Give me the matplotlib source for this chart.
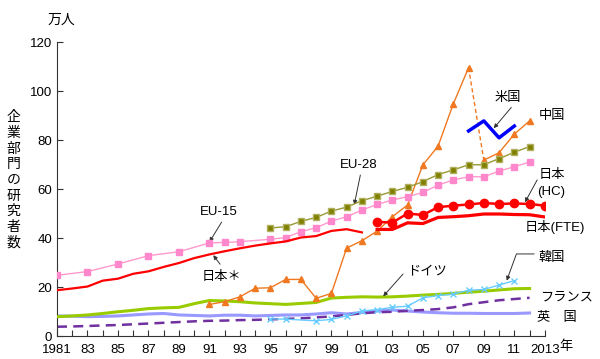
import matplotlib
matplotlib.use('Agg')
import matplotlib.pyplot as plt
import numpy as np

plt.rcParams['font.family'] = ['Liberation Sans', 'Noto Sans CJK JP', 'DejaVu Sans']

# data (万人)
yrs_jp_old = list(range(1981, 2002))
jp_old = [18.7, 19.4, 20.2, 22.6, 23.4, 25.4, 26.4, 28.2, 29.8, 31.8, 33.3,
          34.6, 35.8, 36.9, 37.8, 38.6, 40.2, 40.8, 42.9, 43.6, 42.3]
yrs_jp_new = list(range(2002, 2014))
jp_fte = [43.5, 43.5, 46.2, 45.9, 48.4, 48.7, 49.1, 49.8, 49.8, 49.6, 49.5, 48.6]
jp_hc = [46.6, 46.3, 50.0, 49.4, 52.6, 53.2, 53.7, 54.3, 53.9, 54.1, 53.9, 53.2]

yrs_eu15 = [1981, 1983, 1985, 1987, 1989, 1991, 1992, 1993] + list(range(1995, 2013))
eu15 = [24.8, 26.3, 29.4, 32.8, 34.4, 38.0, 38.2, 38.5, 39.5, 40.2, 42.6, 44.2,
        46.9, 48.7, 51.4, 53.7, 55.5, 56.9, 58.6, 61.6, 63.7, 65.0, 65.0, 67.3,
        69.1, 71.0]
yrs_eu28 = list(range(1995, 2013))
eu28 = [44.1, 44.6, 46.8, 48.4, 51.0, 52.6, 55.2, 57.1, 59.0, 60.7, 63.0, 65.9,
        67.8, 69.9, 69.9, 72.4, 75.0, 77.3]

yrs_cn1 = list(range(1991, 2009))
cn1 = [12.9, 14.0, 16.0, 19.5, 19.7, 23.1, 23.1, 15.4, 17.4, 35.9, 38.9, 42.8,
       48.7, 53.5, 69.8, 77.5, 94.8, 109.5]
yrs_cn2 = [2009, 2010, 2011, 2012]
cn2 = [71.8, 74.8, 82.4, 87.8]

yrs_us = [2008, 2009, 2010, 2011]
us = [83.7, 87.8, 80.9, 85.7]

yrs_all = list(range(1981, 2013))
de = [7.9, 8.2, 8.6, 9.2, 9.9, 10.5, 11.2, 11.5, 11.7, 13.2, 14.5, 14.3, 14.0,
      13.5, 13.2, 12.9, 13.3, 13.7, 15.5, 15.8, 16.0, 15.9, 16.0, 16.3, 16.7,
      17.0, 17.4, 17.9, 18.3, 18.8, 19.3, 19.4]
uk = [8.2, 8.1, 7.9, 8.0, 8.2, 8.6, 9.0, 9.2, 8.6, 8.4, 8.2, 8.5, 8.5, 8.2,
      8.4, 8.6, 8.6, 9.0, 9.5, 9.0, 9.6, 10.2, 10.6, 10.2, 9.8, 9.5, 9.3, 9.3,
      9.2, 9.2, 9.2, 9.4]
fr = [3.8, 3.9, 4.1, 4.3, 4.5, 4.8, 5.1, 5.4, 5.7, 6.0, 6.2, 6.3, 6.5, 6.6,
      6.8, 7.0, 7.2, 7.6, 8.0, 8.6, 9.3, 9.7, 9.9, 10.3, 10.6, 11.0, 11.7, 13.0,
      13.8, 14.6, 15.1, 15.6]
yrs_kr = [1995, 1996, 1998, 1999] + list(range(2000, 2012))
kr = [7.0, 6.9, 6.2, 6.8, 8.2, 10.2, 10.8, 11.7, 12.2, 15.6, 16.5, 17.1, 18.7,
      19.0, 20.8, 22.6]

xtick_labels = ['1981', '83', '85', '87', '89', '91', '93', '95', '97', '99',
                '01', '03', '05', '07', '09', '11', '2013']

fig = plt.figure(figsize=(6, 3.59), dpi=100)
ax = fig.add_axes([0.095, 0.064, 0.813, 0.819])

ax.plot(yrs_all, uk, color='#9999ff', lw=2.2, zorder=2)
ax.plot(yrs_all, fr, color='#7030a0', lw=1.8, ls=(0, (4, 2.5)), zorder=2)
ax.plot(yrs_all, de, color='#99cc00', lw=2.2, zorder=3)
ax.plot(yrs_kr, kr, color='#66ccff', lw=1, marker='x', ms=4, mew=1, zorder=4)
ax.plot(yrs_cn1, cn1, color='#f07820', lw=1, marker='^', ms=4.5, zorder=4)
ax.plot(yrs_cn2, cn2, color='#f07820', lw=1, marker='^', ms=4.5, zorder=4)
ax.plot([yrs_cn1[-1], yrs_cn2[0]], [cn1[-1], cn2[0]], color='#f07820', lw=1,
        ls=(0, (3, 2)), zorder=4)
ax.plot(yrs_eu15, eu15, color='#ff99cc', lw=1, marker='s', ms=4.5,
        mfc='#ff88cc', mec='#ff88cc', zorder=4)
ax.plot(yrs_eu28, eu28, color='#999933', lw=1, marker='s', ms=5,
        mfc='#808000', mec='#b0b060', zorder=4)
ax.plot(yrs_jp_old, jp_old, color='#ff0000', lw=1.6, zorder=5)
ax.plot(yrs_jp_new, jp_fte, color='#ff0000', lw=2.3, zorder=5)
ax.plot(yrs_jp_new, jp_hc, color='#ff0000', lw=1.8, marker='o', ms=6, zorder=5)
ax.plot(yrs_us, us, color='#0000ff', lw=2.5, zorder=5)

ax.set_xlim(1981, 2013)
ax.set_ylim(0, 120)
ax.set_xticks(range(1981, 2014, 2))
ax.set_xticklabels(xtick_labels)
ax.set_xticks(range(1981, 2014), minor=True)
ax.set_yticks(range(0, 121, 20))
ax.tick_params(axis='both', which='both', direction='in', length=4,
               width=0.8, color='#333333', labelsize=9.5)
ax.tick_params(axis='x', pad=6)
for s in ['top', 'right']:
    ax.spines[s].set_visible(False)
for s in ['left', 'bottom']:
    ax.spines[s].set_color('#333333')

fig.text(0.102, 0.944, '万人', fontsize=10, ha='center', va='center')
fig.text(0.943, 0.033, '年', fontsize=9.5, ha='center', va='center')
for i, ch in enumerate('企業部門の研究者数'):
    fig.text(0.022, 0.673 - i * 0.0435, ch, fontsize=10, ha='center', va='center')

fs = 9.5
arrow = dict(arrowstyle='-|>', color='#333333', lw=0.7, mutation_scale=6,
             shrinkA=0, shrinkB=0)
ax.annotate('', xy=(2000.5, 53.6), xytext=(2000.9, 65.7), arrowprops=arrow)
ax.text(2000.8, 69.8, 'EU-28', fontsize=fs, ha='center', va='center')
ax.annotate('', xy=(1991.0, 38.4), xytext=(1991.8, 46.5), arrowprops=arrow)
ax.text(1991.6, 50.6, 'EU-15', fontsize=fs, ha='center', va='center')
ax.annotate('', xy=(1991.25, 33.0), xytext=(1991.7, 29.3), arrowprops=arrow)
ax.text(1991.8, 24.2, '日本＊', fontsize=fs, ha='center', va='center')
ax.annotate('', xy=(2002.4, 16.2), xytext=(2003.7, 25.3), arrowprops=arrow)
ax.text(2005.3, 26.3, 'ドイツ', fontsize=fs, ha='center', va='center')
ax.annotate('', xy=(2009.65, 84.8), xytext=(2010.8, 93.3), arrowprops=arrow)
ax.text(2010.6, 97.3, '米国', fontsize=fs, ha='center', va='center')
ax.annotate('', xy=(2011.7, 54.6), xytext=(2012.5, 63.7), arrowprops=arrow)
ax.annotate('', xy=(2010.5, 22.6), xytext=(2012.3, 33.5),
            arrowprops=dict(arrow, connectionstyle='angle,angleA=0,angleB=70,rad=0'))
ax.text(2012.6, 89.6, '中国', fontsize=fs, va='center')
ax.text(2012.6, 65.7, '日本', fontsize=fs, va='center')
ax.text(2012.5, 58.6, '(HC)', fontsize=fs, va='center')
ax.text(2011.7, 44.6, '日本(FTE)', fontsize=fs, va='center')
ax.text(2012.6, 31.8, '韓国', fontsize=fs, va='center')
ax.text(2012.7, 15.9, 'フランス', fontsize=fs, va='center')
ax.text(2012.5, 7.3, '英　国', fontsize=fs, va='center')

fig.savefig('out.png', dpi=100)
